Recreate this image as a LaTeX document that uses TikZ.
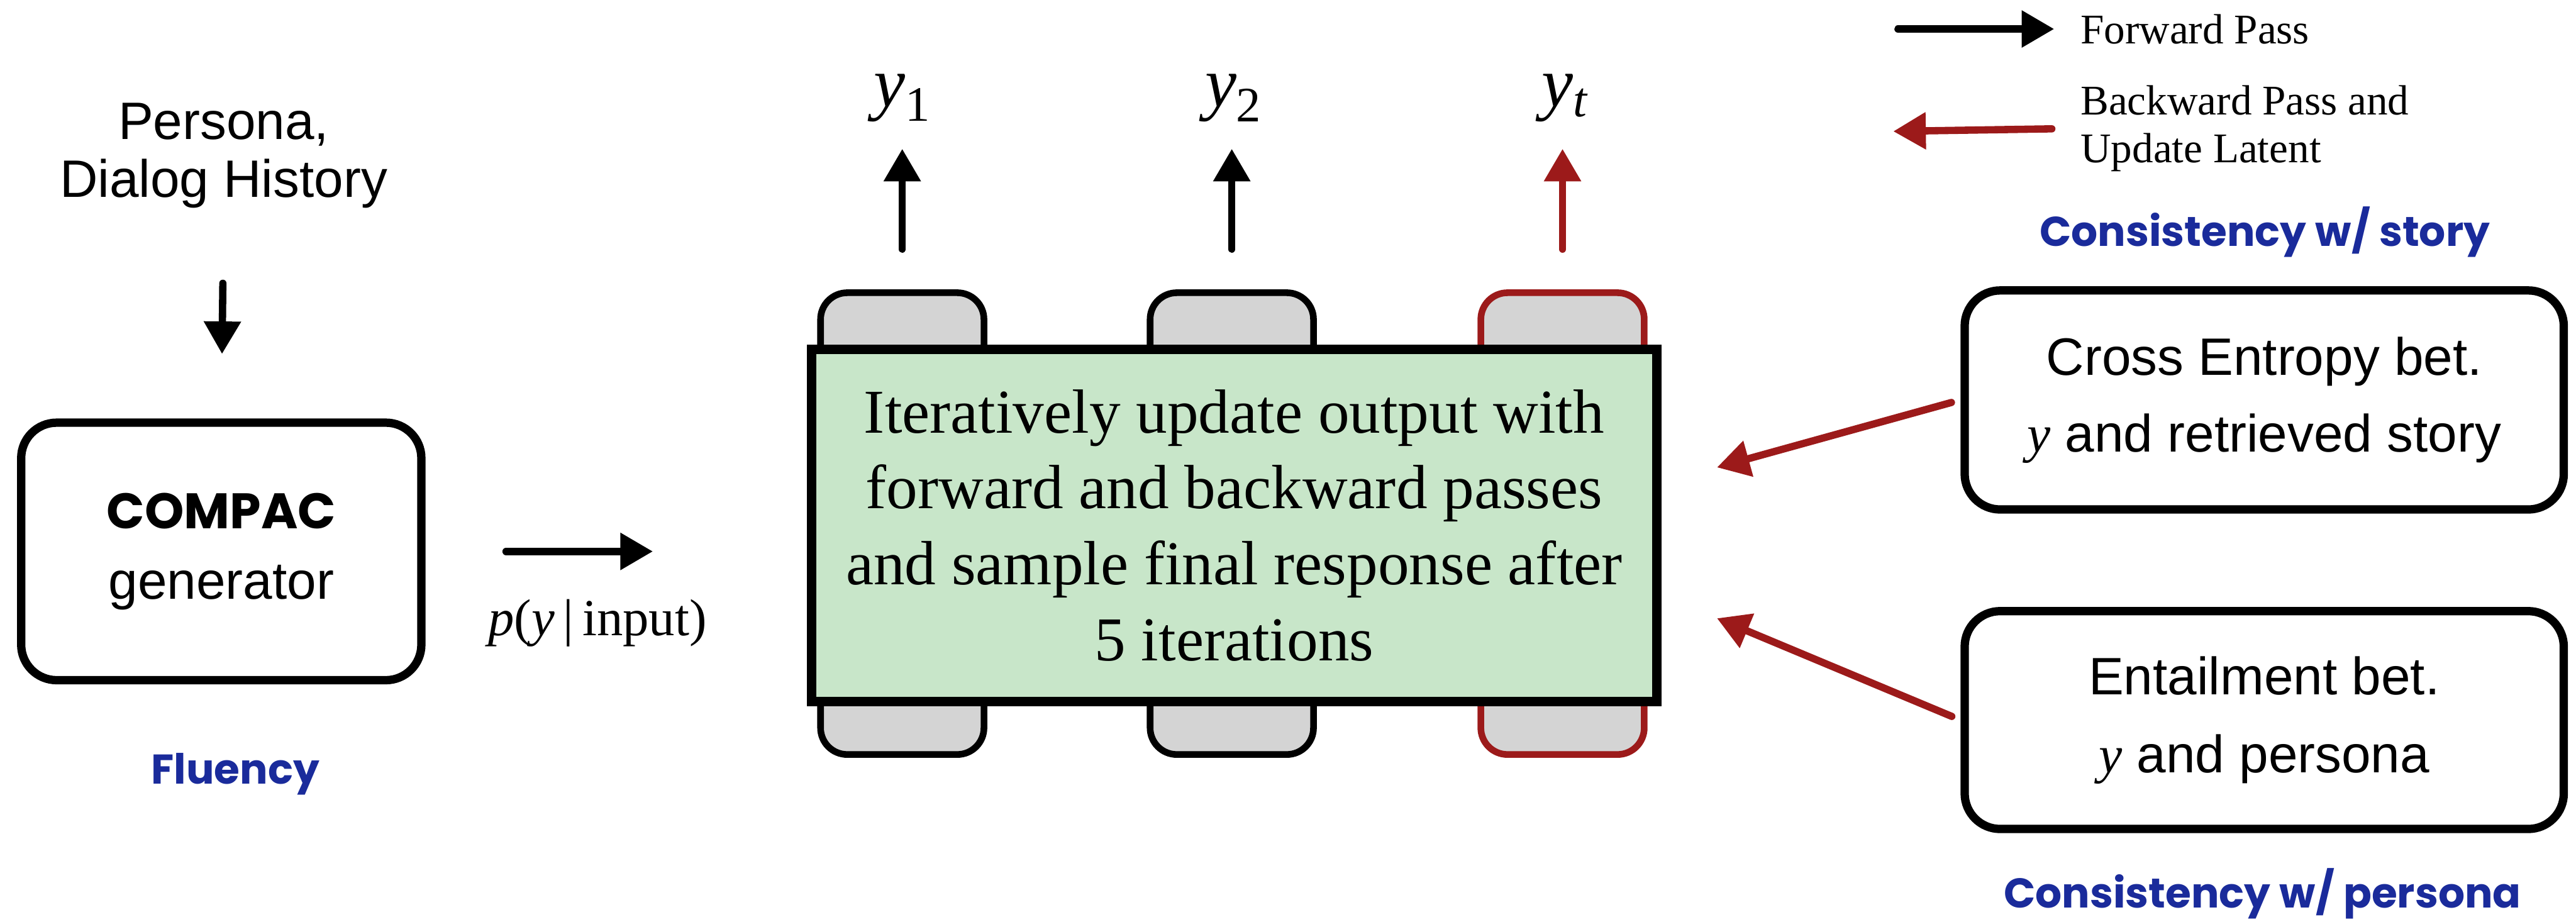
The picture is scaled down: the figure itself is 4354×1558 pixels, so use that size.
\documentclass[tikz,border=0pt]{standalone}
\usepackage{fontspec}
\setmainfont{Liberation Serif}
\newfontfamily\sansf{Liberation Sans}
\newfontfamily\handf{Poppins}
\usetikzlibrary{arrows.meta}
\definecolor{bgreen}{HTML}{C8E6C9}
\definecolor{bgray}{HTML}{D4D4D4}
\definecolor{bred}{HTML}{9C1A1A}
\definecolor{bblue}{HTML}{1A2B9B}
\begin{document}
\begin{tikzpicture}[x=0.01cm,y=-0.01cm,
  sbox/.style={draw=black, line width=4pt, rounded corners=0.6cm, fill=white, align=center, inner sep=0pt},
  gbox/.style={draw=black, fill=bgray, line width=3.2pt, rounded corners=0.45cm, minimum width=2.76cm, minimum height=7.8cm, inner sep=0pt},
  fwd/.style={line width=3.5pt, line cap=round, -{Triangle[length=0.55cm,width=0.6cm]}},
  bwd/.style={fwd, draw=bred, color=bred},
  hand/.style={font=\handf\bfseries\fontsize{20}{24}\selectfont, text=bblue},
  ylab/.style={font=\fontsize{34}{40}\selectfont, inner sep=0pt, anchor=base},
  ]
\useasboundingbox (0,0) rectangle (4354,1558);

% left part
\node[font=\sansf\fontsize{25.3}{27.6}\selectfont, align=center] (inp) at (378,263) {Persona,\\Dialog History};
\node[sbox, minimum width=6.76cm, minimum height=4.35cm, font=\sansf\fontsize{25.3}{34}\selectfont] (gen) at (374,932) {{\handf\bfseries\fontsize{24}{34}\selectfont COMPAC}\\generator};
\node[hand] (flu) at (398,1308) {Fluency};
\draw[fwd, shorten <=1.15cm, shorten >=1.09cm] (inp.south) -- (gen.north);

% middle part
\node[gbox] (g1) at (1525,885) {};
\node[gbox] (g2) at (2082,885) {};
\node[gbox, draw=bred] (g3) at (2641,885) {};
\node[draw=black, fill=bgreen, line width=4.5pt, minimum width=14.28cm, minimum height=5.95cm, align=center, inner sep=0pt, font=\fontsize{30}{36.5}\selectfont] (upd) at (2086,888) {Iteratively update output with\\forward and backward passes\\and sample final response after\\5 iterations};

\node[ylab] (y1) at (1525,180) {{\itshape y}\textsubscript{1}};
\node[ylab] (y2) at (2085,180) {{\itshape y}\textsubscript{2}};
\node[ylab] (yt) at (2645,180) {{\itshape y}\textsubscript{\itshape t}};
\draw[fwd, shorten <=0.68cm, shorten >=0.45cm] (g1.north) -- (g1.north |- y1.south);
\draw[fwd, shorten <=0.68cm, shorten >=0.45cm] (g2.north) -- (g2.north |- y2.south);
\draw[bwd, shorten <=0.68cm, shorten >=0.45cm] (g3.north) -- (g3.north |- yt.south);

\draw[fwd, shorten <=1.36cm, shorten >=2.6cm] (gen.east) -- (gen.east -| upd.west);
\node[font=\fontsize{25}{30}\selectfont] (pl) at (1010,1053) {{\itshape p}({\itshape y}\,|\,input)};

% right part
\node[hand] (cs) at (3828,392) {Consistency w/ story};
\node[sbox, minimum width=10.12cm, minimum height=3.7cm, font=\sansf\fontsize{25.3}{37}\selectfont] (cb1) at (3827,676) {Cross Entropy bet.\\{\rmfamily\itshape y} and retrieved story};
\node[sbox, minimum width=10.12cm, minimum height=3.68cm, font=\sansf\fontsize{25.3}{37.5}\selectfont] (cb2) at (3827,1217) {Entailment bet.\\{\rmfamily\itshape y} and persona};
\node[hand] (cp) at (3824,1510) {Consistency w/ persona};
\coordinate (t1) at (2902,790);
\coordinate (t2) at (2902,1045);
\draw[bwd, shorten <=0.16cm] (cb1.west) -- (t1);
\draw[bwd, shorten <=0.16cm] (cb2.west) -- (t2);

% legend
\node[anchor=west, inner sep=0pt, font=\fontsize{20.3}{23}\selectfont] (fl) at (3516,49) {Forward Pass};
\coordinate (f0) at (3208,49);
\draw[fwd, shorten >=0.44cm] (f0) -- (fl.west);
\node[anchor=west, inner sep=0pt, align=left, font=\fontsize{20.3}{23}\selectfont] (bl) at (3516,217) {Backward Pass and\\Update Latent};
\coordinate (b0) at (3200,222);
\draw[bwd, shorten <=0.48cm] (bl.west) -- (b0);
\end{tikzpicture}
\end{document}
